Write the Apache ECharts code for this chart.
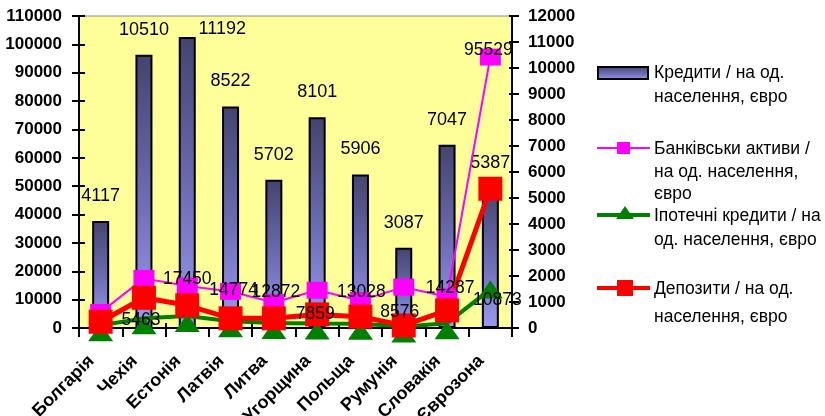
<!DOCTYPE html>
<html><head><meta charset="utf-8">
<script src="https://cdn.jsdelivr.net/npm/echarts@6/dist/echarts.min.js"></script>
<style>html,body{margin:0;padding:0;background:#fff}#c{width:825px;height:416px}</style>
</head><body><div id="c"></div>
<script>
// ---- data ----
const categories = ['Болгарія','Чехія','Естонія','Латвія','Литва','Угорщина','Польща','Румунія','Словакія','Єврозона'];
const credits   = [4117, 10510, 11192, 8522, 5702, 8101, 5906, 3087, 7047, 5387];   // right axis
const assets    = [5500, 17500, 14800, 12900, 9000, 13300, 9700, 14400, 11000, 95529]; // left axis
const mortgages = [1000, 3400, 4200, 2400, 1800, 1600, 1500, 500, 1700, 13600];
const deposits  = [2200, 10650, 8000, 3400, 3400, 4800, 4000, 900, 6200, 49100];
const assetLabels    = ['', '', '17450', '14774', '12872', '', '13028', '', '14287', '95529'];
const mortgageLabels = ['', '5463', '', '', '', '7859', '', '8576', '', '10873'];
const leftAxisTicks  = {min: 0, max: 110000, step: 10000};
const rightAxisTicks = {min: 0, max: 12000, step: 1000};
const seriesNames = ['Кредити / на од. населення, євро','Банківськи активи / на од. населення, євро','Іпотечні кредити / на од. населення, євро','Депозити / на од. населення, євро'];
const legendLines = [['Кредити / на од.','населення, євро'],['Банківськи активи /','на од. населення,','євро'],['Іпотечні кредити / на','од. населення, євро'],['Депозити / на од.','населення, євро']];

// ---- styling / layout ----
const FONT = 'Liberation Sans, Arial, sans-serif';
const barGrad = () => new echarts.graphic.LinearGradient(0,0,0,1,[{offset:0,color:'#44446f'},{offset:0.5,color:'#6a6ab0'},{offset:1,color:'#9a9af2'}]);
const creditOffsets = {2:[35,17]};
const assetOffsets = {2:[0,-7],3:[3,-1],4:[2,-10],6:[1,-8],8:[3,-9],9:[-2,-7]};
const mortOffsets = {1:[-3,-5],5:[-2,-16],7:[-4,-21],9:[7,11]};

const chart = echarts.init(document.getElementById('c'), null, {renderer:'canvas'});
const axisLbl = {color:'#000', fontWeight:'bold', fontSize:17, fontFamily:FONT, formatter:v=>String(v)};

const legendGraphics = [];
legendGraphics.push({type:'rect', shape:{x:598,y:67,width:50,height:12}, style:{fill:barGrad(), stroke:'#000', lineWidth:2}});
legendGraphics.push({type:'line', shape:{x1:597,y1:148,x2:650,y2:148}, style:{stroke:'#ff00ff', lineWidth:2}});
legendGraphics.push({type:'rect', shape:{x:617,y:142,width:13,height:12}, style:{fill:'#ff00ff'}});
legendGraphics.push({type:'line', shape:{x1:597,y1:215,x2:650,y2:215}, style:{stroke:'#008000', lineWidth:4}});
legendGraphics.push({type:'polygon', shape:{points:[[625,206],[634,219],[616,219]]}, style:{fill:'#008000'}});
legendGraphics.push({type:'line', shape:{x1:597,y1:288,x2:650,y2:288}, style:{stroke:'#ff0000', lineWidth:4}});
legendGraphics.push({type:'rect', shape:{x:617,y:280,width:16,height:16}, style:{fill:'#ff0000'}});
const legendTextY = [[73,97],[149,172,194],[216,240],[289,317]];
legendLines.forEach((lines,i)=>lines.forEach((t,j)=>{
  legendGraphics.push({type:'text', style:{text:t, x:654, y:legendTextY[i][j], fill:'#000', fontSize:17.5, fontFamily:FONT, verticalAlign:'middle', textVerticalAlign:'middle'}});
}));

const option = {
  animation:false,
  backgroundColor:'#fff',
  grid:{left:79, right:313, top:16, bottom:88, containLabel:false, outerBoundsMode:'none', show:true, backgroundColor:'#ffff99', borderColor:'#8a8a8a', borderWidth:1},
  xAxis:[
    {type:'category', data:categories, boundaryGap:true,
     axisLine:{lineStyle:{color:'#000', width:2}},
     axisTick:{show:true, inside:false, length:9, lineStyle:{color:'#000', width:2}},
     axisLabel:{rotate:45, margin:21, padding:[0,13,0,0], color:'#000', fontWeight:'bold', fontSize:18, fontFamily:FONT, interval:0}},
    {type:'category', data:categories, position:'bottom', boundaryGap:true,
     axisLine:{show:false}, axisTick:{show:true, inside:true, length:5, lineStyle:{color:'#000', width:2}}, axisLabel:{show:false}}
  ],
  yAxis:[
    {type:'value', position:'left', min:leftAxisTicks.min, max:leftAxisTicks.max, interval:leftAxisTicks.step,
     axisLine:{show:true, lineStyle:{color:'#000', width:2}}, axisTick:{show:true, length:7, lineStyle:{color:'#000', width:2}},
     splitLine:{show:false}, axisLabel:Object.assign({margin:17}, axisLbl)},
    {type:'value', position:'right', min:rightAxisTicks.min, max:rightAxisTicks.max, interval:rightAxisTicks.step,
     axisLine:{show:true, lineStyle:{color:'#000', width:2}}, axisTick:{show:true, length:7, lineStyle:{color:'#000', width:2}},
     splitLine:{show:false}, axisLabel:Object.assign({margin:16}, axisLbl)},
    {type:'value', position:'left', min:leftAxisTicks.min, max:leftAxisTicks.max, interval:leftAxisTicks.step,
     axisLine:{show:false}, axisTick:{show:true, inside:true, length:6, lineStyle:{color:'#000', width:2}}, splitLine:{show:false}, axisLabel:{show:false}},
    {type:'value', position:'right', min:rightAxisTicks.min, max:rightAxisTicks.max, interval:rightAxisTicks.step,
     axisLine:{show:false}, axisTick:{show:true, inside:true, length:3, lineStyle:{color:'#000', width:2}}, splitLine:{show:false}, axisLabel:{show:false}}
  ],
  series:[
    {name:seriesNames[0], type:'bar', yAxisIndex:1, barWidth:17,
     itemStyle:{color:barGrad(), borderColor:'#000', borderWidth:2},
     label:{show:true, position:'top', distance:16, color:'#000', fontSize:18, fontFamily:FONT},
     data:credits.map((v,i)=> creditOffsets[i] ? {value:v, label:{offset:creditOffsets[i]}} : v)},
    {name:seriesNames[1], type:'line', yAxisIndex:0, symbol:'rect', symbolSize:[21,17], showSymbol:true,
     itemStyle:{color:'#ff00ff'}, lineStyle:{color:'#ff00ff', width:2},
     label:{show:true, position:'inside', color:'#000', fontSize:17.5, fontFamily:FONT, formatter:p=>assetLabels[p.dataIndex]},
     data:assets.map((v,i)=> assetOffsets[i] ? {value:v, label:{offset:assetOffsets[i]}} : v)},
    {name:seriesNames[2], type:'line', yAxisIndex:0, symbol:'triangle', symbolSize:[25,18], symbolOffset:[0,7], showSymbol:true,
     itemStyle:{color:'#008000'}, lineStyle:{color:'#008000', width:4},
     label:{show:true, position:'inside', color:'#000', fontSize:17.5, fontFamily:FONT, formatter:p=>mortgageLabels[p.dataIndex]},
     data:mortgages.map((v,i)=> {
       const o = {value:v};
       if (mortOffsets[i]) o.label = {offset:mortOffsets[i]};
       if (i === 9) o.symbolOffset = [0,0];
       return o;
     })},
    {name:seriesNames[3], type:'line', yAxisIndex:0, symbol:'rect', symbolSize:24, showSymbol:true,
     itemStyle:{color:'#ff0000'}, lineStyle:{color:'#ff0000', width:5},
     data:deposits}
  ],
  graphic:legendGraphics
};
chart.setOption(option);
</script></body></html>
